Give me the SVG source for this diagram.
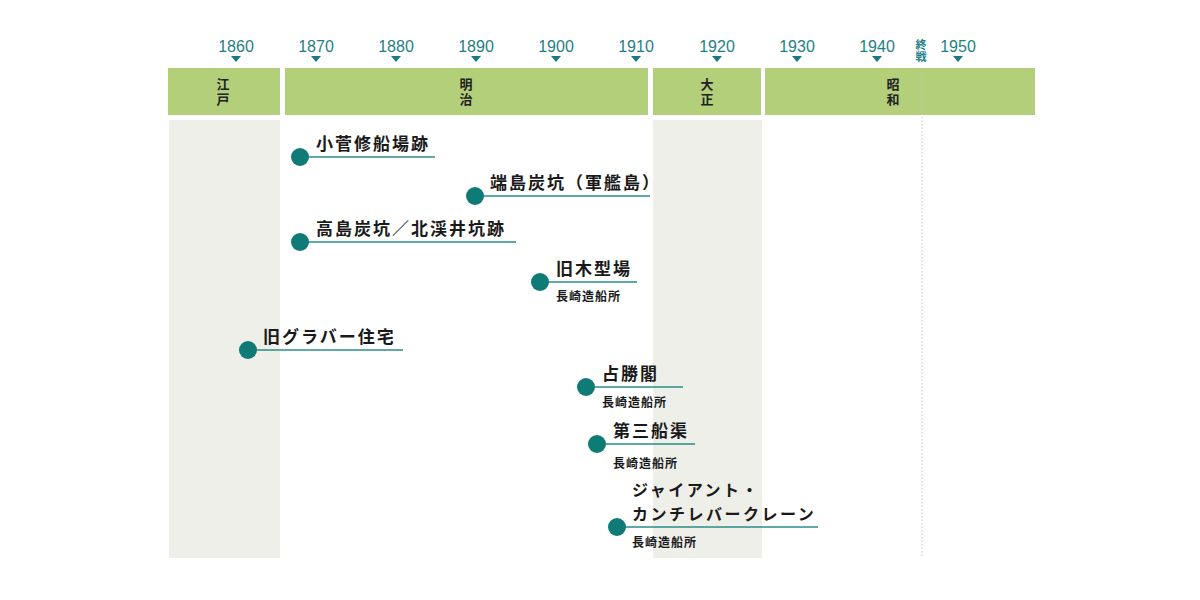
<svg xmlns="http://www.w3.org/2000/svg" width="1200" height="600" viewBox="0 0 1200 600">
<style>
.yr{font-family:"Liberation Sans",Arial,sans-serif;font-size:16px;fill:#1f7f86;text-anchor:middle}
.tri{fill:#1a7a80}
.bar{fill:#b4cf7a}
.col{fill:#efefea}
.era{font-family:"Noto Sans CJK JP",sans-serif;font-size:13px;font-weight:bold;fill:#222;text-anchor:middle;writing-mode:vertical-rl;letter-spacing:2px}
.ttl{font-family:"Noto Sans CJK JP",sans-serif;font-size:17px;font-weight:bold;fill:#1a1a1a;letter-spacing:2px}
.ttl2{font-family:"Noto Sans CJK JP",sans-serif;font-size:16px;font-weight:bold;fill:#1a1a1a;letter-spacing:2.5px}
.sub{font-family:"Noto Sans CJK JP",sans-serif;font-size:12px;font-weight:bold;fill:#1a1a1a;letter-spacing:1px}
.dot{fill:#0f7b76}
.ln{stroke:#2a8c88;stroke-width:1.5;fill:none}
.shu{font-family:"Noto Sans CJK JP",sans-serif;font-size:11px;font-weight:bold;fill:#1f7f86;text-anchor:middle;writing-mode:vertical-rl;letter-spacing:1px}
</style>
<rect width="1200" height="600" fill="#ffffff"/>
<g id="columns">
<rect class="col" x="169" y="120" width="111" height="438"/>
<rect class="col" x="653" y="120" width="109" height="438"/>
</g>
<g id="eras">
<rect class="bar" x="168" y="68" width="112" height="47"/>
<rect class="bar" x="285" y="68" width="363" height="47"/>
<rect class="bar" x="653" y="68" width="108" height="47"/>
<rect class="bar" x="765" y="68" width="270" height="47"/>
<text class="era" x="223" y="93">江戸</text>
<text class="era" x="466" y="93">明治</text>
<text class="era" x="707" y="93">大正</text>
<text class="era" x="893" y="93">昭和</text>
</g>
<g id="years">
<text class="yr" x="236" y="52">1860</text>
<text class="yr" x="316" y="52">1870</text>
<text class="yr" x="396" y="52">1880</text>
<text class="yr" x="476" y="52">1890</text>
<text class="yr" x="556" y="52">1900</text>
<text class="yr" x="636" y="52">1910</text>
<text class="yr" x="717" y="52">1920</text>
<text class="yr" x="797" y="52">1930</text>
<text class="yr" x="877" y="52">1940</text>
<text class="yr" x="958" y="52">1950</text>
<path class="tri" d="M231 56h10l-5 6z M311 56h10l-5 6z M391 56h10l-5 6z M471 56h10l-5 6z M551 56h10l-5 6z M631 56h10l-5 6z M712 56h10l-5 6z M792 56h10l-5 6z M872 56h10l-5 6z M953 56h10l-5 6z"/>
<text class="shu" x="921" y="51">終戦</text>
<line x1="922" y1="68" x2="922" y2="558" stroke="#b8ccb8" stroke-width="1" stroke-dasharray="1.5,2"/>
</g>
<g id="connectors">
<line class="ln" x1="300" y1="157" x2="435" y2="157"/>
<line class="ln" x1="475" y1="196" x2="650" y2="196"/>
<line class="ln" x1="300" y1="242" x2="516" y2="242"/>
<line class="ln" x1="540" y1="282" x2="637" y2="282"/>
<line class="ln" x1="248" y1="350" x2="403" y2="350"/>
<line class="ln" x1="586" y1="387" x2="683" y2="387"/>
<line class="ln" x1="597" y1="444" x2="695" y2="444"/>
<line class="ln" x1="617" y1="527" x2="818" y2="527"/>
</g>
<g id="n1"><circle class="dot" cx="300" cy="157" r="9"/><text class="ttl" x="316" y="150">小菅修船場跡</text></g>
<g id="n2"><circle class="dot" cx="475" cy="196" r="9"/><text class="ttl" x="490" y="189">端島炭坑（軍艦島）</text></g>
<g id="n3"><circle class="dot" cx="300" cy="242" r="9"/><text class="ttl" x="316" y="235">高島炭坑／北渓井坑跡</text></g>
<g id="n4"><circle class="dot" cx="540" cy="282" r="9"/><text class="ttl" x="556" y="275">旧木型場</text><text class="sub" x="556" y="301">長崎造船所</text></g>
<g id="n5"><circle class="dot" cx="248" cy="350" r="9"/><text class="ttl" x="263" y="343">旧グラバー住宅</text></g>
<g id="n6"><circle class="dot" cx="586" cy="387" r="9"/><text class="ttl" x="602" y="380">占勝閣</text><text class="sub" x="602" y="407">長崎造船所</text></g>
<g id="n7"><circle class="dot" cx="597" cy="444" r="9"/><text class="ttl" x="613" y="437">第三船渠</text><text class="sub" x="613" y="468">長崎造船所</text></g>
<g id="n8"><circle class="dot" cx="617" cy="527" r="9"/><text class="ttl2" x="632" y="496">ジャイアント・</text><text class="ttl2" x="632" y="520">カンチレバークレーン</text><text class="sub" x="632" y="547">長崎造船所</text></g>
</svg>
